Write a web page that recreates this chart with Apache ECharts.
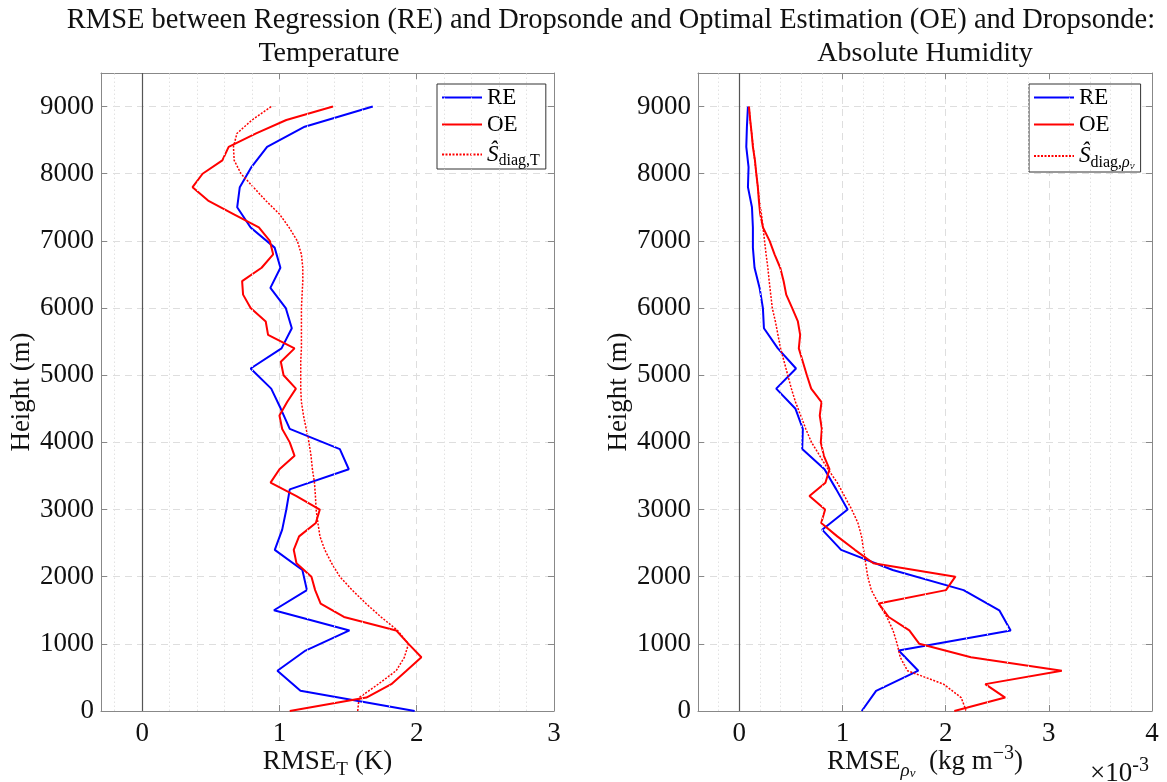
<!DOCTYPE html>
<html><head><meta charset="utf-8">
<script src="https://cdn.jsdelivr.net/npm/echarts@6/dist/echarts.min.js"></script>
<style>html,body{margin:0;padding:0;background:#fff}#c{width:1167px;height:782px}</style>
</head><body><div id="c"></div><script>
// ---------- DATA ----------
// Heights (m) for the regression (RE) profiles
const heightsRE = [0,300,600,900,1200,1500,1800,2100,2400,2700,3000,3300,3600,3900,4200,4500,4800,5100,5400,5700,6000,6300,6600,6900,7200,7500,7800,8100,8400,8700,9000];
// Heights (m) for the optimal estimation (OE) profiles and the S_diag curves
const heightsOE = [0,200,400,600,800,1000,1200,1400,1600,1800,2000,2200,2400,2600,2800,3000,3200,3400,3600,3800,4000,4200,4400,4600,4800,5000,5200,5400,5600,5800,6000,6200,6400,6600,6800,7000,7200,7400,7600,7800,8000,8200,8400,8600,8800,9000];

// Temperature RMSE (K)
const tempRE = [1.985,1.153,0.985,1.19,1.51,0.96,1.20,1.167,0.966,1.02,1.05,1.075,1.505,1.44,1.075,1.01,0.94,0.79,1.015,1.09,1.046,0.934,1.007,0.965,0.79,0.692,0.711,0.796,0.91,1.184,1.68];
const tempOE = [1.075,1.633,1.815,1.925,2.034,1.94,1.85,1.47,1.30,1.26,1.233,1.124,1.104,1.143,1.265,1.294,1.124,0.935,1.0,1.11,1.075,1.02,1.0,1.056,1.12,1.03,1.01,1.11,0.917,0.90,0.79,0.735,0.728,0.87,0.954,0.93,0.85,0.665,0.48,0.367,0.44,0.584,0.63,0.83,1.05,1.39];
const tempS  = [1.57,1.58,1.72,1.85,1.91,1.94,1.86,1.74,1.63,1.53,1.44,1.38,1.33,1.295,1.28,1.267,1.262,1.255,1.24,1.23,1.215,1.195,1.175,1.16,1.155,1.155,1.155,1.16,1.16,1.16,1.16,1.165,1.17,1.17,1.16,1.13,1.07,1.0,0.9,0.81,0.72,0.67,0.665,0.69,0.80,0.94];

// Absolute humidity RMSE (x 10^-3 kg m^-3)
const humRE = [1.187,1.326,1.735,1.545,2.63,2.52,2.174,1.487,0.987,0.803,1.05,0.94,0.826,0.61,0.616,0.545,0.358,0.55,0.374,0.239,0.229,0.197,0.148,0.132,0.132,0.123,0.084,0.09,0.068,0.074,0.084];
const humOE = [2.084,2.577,2.384,3.126,2.245,1.745,1.648,1.448,1.352,2.003,2.094,1.30,1.12,0.95,0.794,0.832,0.68,0.835,0.874,0.82,0.79,0.80,0.78,0.797,0.697,0.655,0.616,0.577,0.59,0.568,0.513,0.455,0.43,0.397,0.342,0.294,0.23,0.203,0.19,0.18,0.165,0.152,0.132,0.12,0.106,0.094];
const humS  = [2.20,2.15,1.98,1.63,1.56,1.53,1.49,1.43,1.35,1.28,1.245,1.225,1.205,1.185,1.15,1.09,1.02,0.95,0.86,0.78,0.70,0.645,0.595,0.545,0.505,0.47,0.435,0.40,0.375,0.35,0.32,0.305,0.29,0.277,0.26,0.245,0.23,0.215,0.195,0.18,0.165,0.15,0.135,0.12,0.105,0.095];

// Minor grid positions
const minorT = [-0.2,0.2,0.4,0.6,0.8,1.2,1.4,1.6,1.8,2.2,2.4,2.6,2.8];
const minorH = [-0.2,0.2,0.4,0.6,0.8,1.2,1.4,1.6,1.8,2.2,2.4,2.6,2.8,3.2,3.4,3.6,3.8];

const titleMain = 'RMSE between Regression (RE) and Dropsonde and Optimal Estimation (OE) and Dropsonde:';
const titleLeft = 'Temperature';
const titleRight = 'Absolute Humidity';

// ---------- CHART ----------
const FONT = '"Liberation Serif", "Times New Roman", serif';
const TXT = '#111';
const pairs = (xs, hs) => xs.map((v, i) => [v, hs[i]]);
const G = [
  {left: 101, top: 73, width: 453, height: 638, containLabel: false, outerBoundsMode: 'none'},
  {left: 698, top: 73, width: 454, height: 638, containLabel: false, outerBoundsMode: 'none'}
];

const rich = {
  t: {fontFamily: FONT, fontSize: 27, color: TXT, lineHeight: 36},
  b: {fontFamily: FONT, fontSize: 19, color: TXT, lineHeight: 19, padding: [17, 0, 0, 0]},
  bi: {fontFamily: FONT, fontSize: 19, fontStyle: 'italic', color: TXT, lineHeight: 19, padding: [17, 0, 0, 0]},
  bb: {fontFamily: FONT, fontSize: 13, fontStyle: 'italic', color: TXT, lineHeight: 13, padding: [23, 0, 0, 0]},
  sup: {fontFamily: FONT, fontSize: 20, color: TXT, lineHeight: 20, padding: [0, 0, 16, 0]}
};
const legRich = {
  s: {fontFamily: FONT, fontSize: 23, fontStyle: 'italic', color: '#000', lineHeight: 26},
  b: {fontFamily: FONT, fontSize: 16, color: '#000', lineHeight: 16, padding: [13, 0, 0, 0]},
  bi: {fontFamily: FONT, fontSize: 16, fontStyle: 'italic', color: '#000', lineHeight: 16, padding: [13, 0, 0, 0]},
  bb: {fontFamily: FONT, fontSize: 11, fontStyle: 'italic', color: '#000', lineHeight: 11, padding: [21, 0, 0, 0]}
};

function xMain(grid, min, max, split) {
  return {
    type: 'value', gridIndex: grid, position: 'bottom', min: min, max: max, splitNumber: split,
    axisLine: {show: true, onZero: false, lineStyle: {color: '#888', width: 1}},
    axisTick: {show: true, inside: true, length: 6, lineStyle: {color: '#888'}},
    axisLabel: {show: true, fontFamily: FONT, fontSize: 27, color: TXT, margin: 9, showMinLabel: false,
      formatter: v => (Math.abs(v - Math.round(v)) < 1e-9 ? String(Math.round(v)) : '')},
    splitLine: {show: true, lineStyle: {color: '#dedede', width: 1, type: [7, 5]}},
    nameLocation: 'middle', nameGap: 33, nameMoveOverlap: false,
    nameTextStyle: {rich: rich}
  };
}
function xTop(grid, min, max, split) {
  return {
    type: 'value', gridIndex: grid, position: 'top', min: min, max: max, splitNumber: split,
    axisLine: {show: true, onZero: false, lineStyle: {color: '#888', width: 1}},
    axisTick: {show: true, inside: true, length: 6, lineStyle: {color: '#888'}},
    axisLabel: {show: false}, splitLine: {show: false}
  };
}
function yMain(grid) {
  return {
    type: 'value', gridIndex: grid, position: 'left', min: 0, max: 9500, interval: 1000,
    axisLine: {show: true, onZero: false, lineStyle: {color: '#888', width: 1}},
    axisTick: {show: true, inside: true, length: 6, lineStyle: {color: '#888'}},
    axisLabel: {fontFamily: FONT, fontSize: 27, color: TXT, margin: 7, showMaxLabel: false,
      formatter: v => (v % 1000 === 0 ? String(v) : '')},
    splitLine: {show: true, lineStyle: {color: '#dedede', width: 1, type: [7, 5]}},
    name: 'Height (m)', nameLocation: 'middle', nameGap: 66, nameMoveOverlap: false,
    nameTextStyle: {fontFamily: FONT, fontSize: 27, color: TXT}
  };
}
function yRight(grid) {
  return {
    type: 'value', gridIndex: grid, position: 'right', min: 0, max: 9500, interval: 1000,
    axisLine: {show: true, onZero: false, lineStyle: {color: '#888', width: 1}},
    axisTick: {show: true, inside: true, length: 6, lineStyle: {color: '#888'}},
    axisLabel: {show: false}, splitLine: {show: false}
  };
}

const xAxes = [xMain(0, -0.3, 3, 3), xMain(1, -0.4, 4, 4), xTop(0, -0.3, 3, 3), xTop(1, -0.4, 4, 4)];
xAxes[0].name = '{t|RMSE}{b|T}{t| (K)}';
xAxes[1].name = '{t|RMSE}{bi|ρ}{bb|v}{t|  (kg m}{sup|−3}{t|)}';

function helper(ax, minor) {
  return {
    type: 'line', name: 'grid' + ax, xAxisIndex: ax, yAxisIndex: ax, data: [[0, 0]], showSymbol: false,
    lineStyle: {opacity: 0}, silent: true, z: 1,
    markLine: {
      silent: true, symbol: ['none', 'none'], label: {show: false}, animation: false,
      lineStyle: {color: '#e2e2e2', width: 1, type: [1.5, 2.5]},
      emphasis: {disabled: true},
      data: minor.map(v => ({xAxis: v})).concat([{xAxis: 0, lineStyle: {color: '#555', width: 1.2, type: 'solid'}}])
    }
  };
}
function curve(name, ax, xs, hs, color, dotted) {
  return {
    type: 'line', name: name, xAxisIndex: ax, yAxisIndex: ax, data: pairs(xs, hs),
    symbol: 'none', showSymbol: false, z: 3, animation: false,
    lineStyle: dotted ? {color: color, width: 1.5, type: [2, 1.5]} : {color: color, width: 2},
    itemStyle: {color: color}
  };
}

function legend(left, data, names) {
  return {
    left: left, top: 84, orient: 'vertical', data: data,
    itemWidth: 40, itemHeight: 14, itemGap: 4, padding: [2, 6, 0, 4],
    borderColor: '#333', borderWidth: 1, backgroundColor: '#fff',
    itemStyle: {opacity: 0, borderWidth: 0},
    textStyle: {fontFamily: FONT, fontSize: 23, color: '#000', rich: legRich},
    formatter: n => names[n] || n,
    selectedMode: false
  };
}

const chart = echarts.init(document.getElementById('c'), null, {renderer: 'canvas'});
chart.setOption({
  backgroundColor: '#fff',
  animation: false,
  grid: G,
  xAxis: xAxes,
  yAxis: [yMain(0), yMain(1), yRight(0), yRight(1)],
  legend: [
    legend(437, ['RE', 'OE', 'S_T'], {'S_T': '{s|Ŝ}{b|diag,T}'}),
    legend(1029, ['RE', 'OE', 'S_rho'], {'S_rho': '{s|Ŝ}{b|diag,}{bi|ρ}{bb|v}'})
  ],
  graphic: [
    {type: 'text', x: 611, y: 21, style: {text: titleMain, font: '28.5px ' + FONT, fill: TXT, textAlign: 'center', textVerticalAlign: 'middle'}},
    {type: 'text', x: 329, y: 54, style: {text: titleLeft, font: '28px ' + FONT, fill: TXT, textAlign: 'center', textVerticalAlign: 'middle'}},
    {type: 'text', x: 925, y: 54, style: {text: titleRight, font: '28px ' + FONT, fill: TXT, textAlign: 'center', textVerticalAlign: 'middle'}},
    {type: 'text', x: 1090, y: 756, style: {text: '{t|×10}{sup|-3}', rich: rich, fill: TXT}}
  ],
  series: [
    helper(0, minorT), helper(1, minorH),
    curve('RE', 0, tempRE, heightsRE, '#0000ff', false),
    curve('OE', 0, tempOE, heightsOE, '#ff0000', false),
    curve('S_T', 0, tempS, heightsOE, '#ff0000', true),
    curve('RE', 1, humRE, heightsRE, '#0000ff', false),
    curve('OE', 1, humOE, heightsOE, '#ff0000', false),
    curve('S_rho', 1, humS, heightsOE, '#ff0000', true)
  ]
});
</script></body></html>
